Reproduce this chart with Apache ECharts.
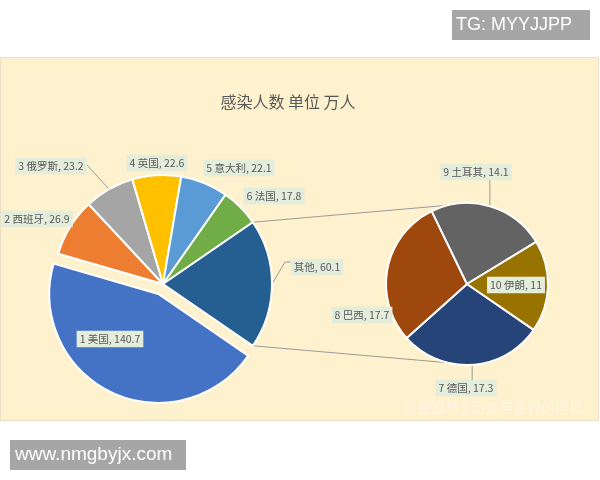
<!DOCTYPE html>
<html><head><meta charset="utf-8">
<script src="https://cdn.jsdelivr.net/npm/echarts@6/dist/echarts.min.js"></script>
<style>html,body{margin:0;padding:0;background:#fff}#c{width:600px;height:480px}</style>
</head><body><div id="c"></div>
<script>
// ---- data ----
const titleText = '感染人数 单位 万人';
const mainCategories = ['1 美国', '2 西班牙', '3 俄罗斯', '4 英国', '5 意大利', '6 法国', '其他'];
const mainValues = [140.7, 26.9, 23.2, 22.6, 22.1, 17.8, 60.1];
const subCategories = ['7 德国', '8 巴西', '9 土耳其', '10 伊朗'];
const subValues = [17.3, 17.7, 14.1, 11];

// ---- styles / layout ----
const mainColors = ['#4472C4', '#ED7D31', '#A5A5A5', '#FFC000', '#5B9BD5', '#70AD47', '#255E91'];
const subColors = ['#264478', '#9E480E', '#636363', '#997300'];
const MAIN = { cx: 163, cy: 284, r: 109 };
const SUB = { cx: 467, cy: 284, r: 81 };
const EXPLODE_INDEX = 0, EXPLODE_DIST = 11;
const mainLabelPos = [[110, 339], [37, 219], [51, 166], [157, 163], [239, 168], [274, 196], [317, 267]];
const subLabelPos = [[466, 388], [362, 315], [476, 172], [516, 285]];
const font = '"Noto Sans CJK SC", "Noto Sans", sans-serif';

const sum = a => a.reduce((s, v) => s + v, 0);
const mainTotal = sum(mainValues);
const otherShare = mainValues[mainValues.length - 1] / mainTotal;
const startAngle = 360 * (1 - otherShare / 2);

function midAngle(values, i) {
  const t = sum(values);
  const before = sum(values.slice(0, i));
  return startAngle - 360 * (before + values[i] / 2) / t;
}
function edgePoint(p, deg) {
  const a = deg * Math.PI / 180;
  return [p.cx + p.r * Math.cos(a), p.cy - p.r * Math.sin(a)];
}

// exploded slice centre, along its bisector
const exA = midAngle(mainValues, EXPLODE_INDEX) * Math.PI / 180;
const EX = { cx: MAIN.cx + EXPLODE_DIST * Math.cos(exA), cy: MAIN.cy - EXPLODE_DIST * Math.sin(exA), r: MAIN.r };

// label leader lines, anchored on slice edges
const mainLines = {
  2: () => { const e = edgePoint(MAIN, midAngle(mainValues, 2)); return [e, [87, 165], [87, 165]]; },
  6: () => { const e = edgePoint(MAIN, midAngle(mainValues, 6)); return [e, [285, 262], [292, 262]]; }
};
const subLines = {
  0: () => { const e = edgePoint(SUB, midAngle(subValues, 0)); return [e, [e[0], 381], [e[0], 381]]; },
  2: () => { const e = edgePoint(SUB, midAngle(subValues, 2)); return [e, [e[0], 180], [e[0], 180]]; }
};

const labelStyle = {
  show: true, position: 'outside', formatter: '{b}, {c}',
  color: '#595959', fontSize: 10.5, fontFamily: font,
  backgroundColor: '#E4ECDC', padding: [3, 3]
};
const hidden = { color: 'rgba(0,0,0,0)', borderWidth: 0 };

function makeData(names, values, colors, lines, visible) {
  return values.map((v, i) => {
    const show = visible(i);
    return {
      name: names[i], value: v,
      itemStyle: show ? { color: colors[i] } : hidden,
      label: { show: show },
      labelLine: { show: show && !!lines[i] }
    };
  });
}
function makeLayout(pos, lines) {
  return function (params) {
    const p = pos[params.dataIndex];
    const o = { x: p[0], y: p[1], align: 'center', verticalAlign: 'middle' };
    if (lines[params.dataIndex]) o.labelLinePoints = lines[params.dataIndex]();
    return o;
  };
}

const cA = 360 * otherShare / 2;
const lineStyle = { stroke: '#9a9a9a', lineWidth: 1 };
const p1 = edgePoint(MAIN, cA), p2 = edgePoint(SUB, 103.5);
const p3 = edgePoint(MAIN, -cA), p4 = edgePoint(SUB, -103.5);

const pieBase = {
  type: 'pie', startAngle: startAngle, clockwise: true,
  avoidLabelOverlap: false, silent: true,
  itemStyle: { borderColor: '#ffffff', borderWidth: 2 },
  label: labelStyle,
  labelLine: { lineStyle: { color: '#9a9a9a', width: 1 } },
  emphasis: { disabled: true }
};

const chart = echarts.init(document.getElementById('c'));
chart.setOption({
  backgroundColor: '#ffffff',
  animation: false,
  title: {
    text: titleText, left: 283, top: 89, textAlign: 'center',
    textStyle: { color: '#595959', fontSize: 16, fontWeight: 'normal', fontFamily: font }
  },
  graphic: [
    { type: 'rect', z: -10, shape: { x: 0.5, y: 57.5, width: 598, height: 363 },
      style: { fill: '#FEF1CD', stroke: '#EBE0C3', lineWidth: 1 } },
    { type: 'line', z: 1, shape: { x1: p1[0], y1: p1[1], x2: p2[0], y2: p2[1] }, style: lineStyle },
    { type: 'line', z: 1, shape: { x1: p3[0], y1: p3[1], x2: p4[0], y2: p4[1] }, style: lineStyle },
    { type: 'text', z: 1, style: { x: 404, y: 407, text: '@搜狐号 / 历史与世界的遇见', fill: 'rgba(255,255,255,0.4)',
      fontSize: 14, fontFamily: font, verticalAlign: 'middle' } },
    { type: 'rect', z: 5, shape: { x: 452, y: 10, width: 138, height: 30 }, style: { fill: '#A6A6A6' } },
    { type: 'text', z: 6, style: { x: 456, y: 25, text: 'TG: MYYJJPP', fill: '#ffffff', fontSize: 18,
      fontFamily: '"Liberation Sans", Arial, sans-serif', verticalAlign: 'middle' } },
    { type: 'rect', z: 5, shape: { x: 10, y: 440, width: 176, height: 30 }, style: { fill: '#A6A6A6' } },
    { type: 'text', z: 6, style: { x: 15, y: 455, text: 'www.nmgbyjx.com', fill: '#ffffff', fontSize: 19,
      fontFamily: '"Liberation Sans", Arial, sans-serif', verticalAlign: 'middle' } }
  ],
  series: [
    Object.assign({}, pieBase, {
      center: [MAIN.cx, MAIN.cy], radius: MAIN.r,
      labelLayout: makeLayout(mainLabelPos, mainLines),
      data: makeData(mainCategories, mainValues, mainColors, mainLines, i => i !== EXPLODE_INDEX)
    }),
    Object.assign({}, pieBase, {
      center: [EX.cx, EX.cy], radius: EX.r,
      labelLayout: makeLayout(mainLabelPos, mainLines),
      data: makeData(mainCategories, mainValues, mainColors, mainLines, i => i === EXPLODE_INDEX)
    }),
    Object.assign({}, pieBase, {
      center: [SUB.cx, SUB.cy], radius: SUB.r,
      labelLayout: makeLayout(subLabelPos, subLines),
      data: makeData(subCategories, subValues, subColors, subLines, () => true)
    })
  ]
});
</script>
</body></html>
